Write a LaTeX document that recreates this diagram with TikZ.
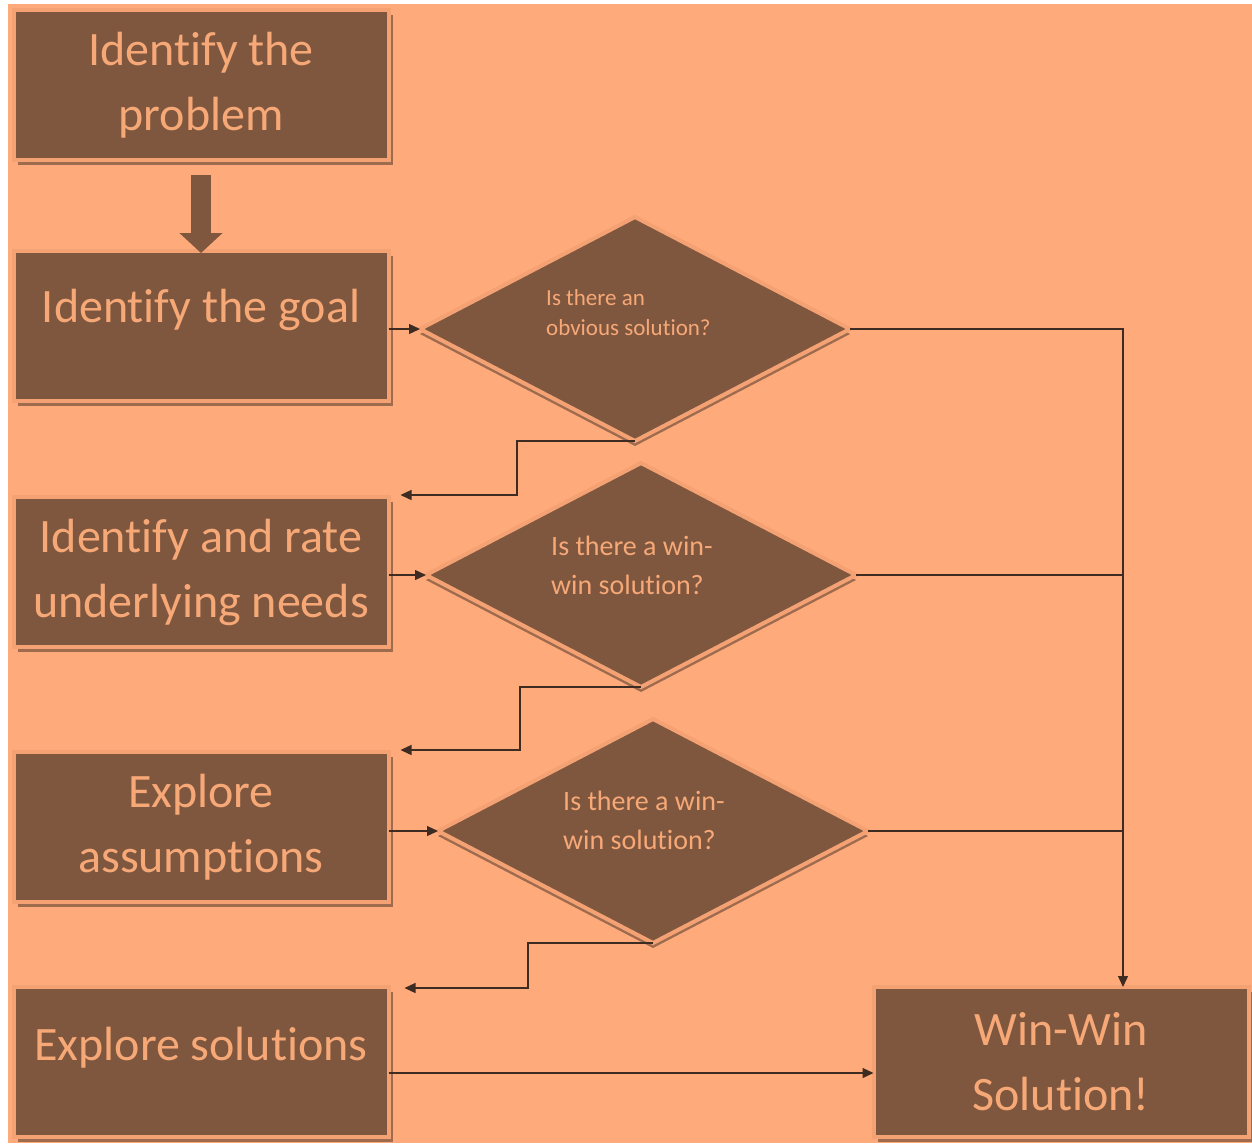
\documentclass[tikz,border=0pt]{standalone}
\usepackage{fontspec}
\setmainfont{Carlito}[Ligatures=NoCommon]
\usetikzlibrary{shapes.geometric,arrows.meta,shadows}
\definecolor{bgc}{HTML}{FFAA7A}
\definecolor{brownc}{HTML}{7F573F}
\definecolor{edgec}{HTML}{F4A274}
\definecolor{shadc}{HTML}{9E6B4F}
\definecolor{txtc}{HTML}{F7A877}
\definecolor{linec}{HTML}{3E2C22}
\begin{document}
\begin{tikzpicture}[x=1pt,y=-1pt,
  stepbox/.style={rectangle, fill=brownc, draw=edgec, line width=4pt,
    minimum width=375pt, minimum height=150pt, inner sep=0pt, outer sep=0pt,
    text=txtc, align=center, font=\fontsize{48}{65}\selectfont,
    drop shadow={shadow xshift=4pt, shadow yshift=-5pt, fill=shadc, opacity=1}},
  decision/.style={diamond, fill=brownc, draw=edgec, line width=4pt,
    minimum width=430pt, minimum height=224pt, inner sep=0pt, outer sep=0pt,
    drop shadow={shadow xshift=0pt, shadow yshift=-5pt, fill=shadc, opacity=1}},
  qsmall/.style={anchor=base west, inner sep=0pt, text=txtc, align=left,
    font=\fontsize{23}{30}\selectfont},
  qtext/.style={anchor=base west, inner sep=0pt, text=txtc, align=left,
    font=\fontsize{28}{39}\selectfont},
  conn/.style={draw=linec, line width=1.3pt},
  arr/.style={conn, -{Triangle[length=11pt,width=10pt]}},
  bigarrow/.style={draw=brownc, line width=20pt, -{Triangle[length=20pt,width=42pt]}}
]
\useasboundingbox (0,0) rectangle (1252,1143);
\fill[white] (0,0) rectangle (1252,1143);
\fill[bgc] (8,4) rectangle (1252,1143);

% boxes
\node[stepbox] (b1) at (201,85) {Identify the\\problem};
\node[stepbox, text depth=40pt] (b2) at (201,326) {Identify the goal};
\node[stepbox] (b3) at (201,572) {Identify and rate\\underlying needs};
\node[stepbox] (b4) at (201,827) {Explore\\assumptions};
\node[stepbox, text depth=36pt] (b5) at (201,1062) {Explore solutions};
\node[stepbox] (win) at (1061,1062) {Win-Win\\Solution!};

% decisions
\node[decision] (d1) at (635,329) {};
\node[decision] (d2) at (641,575) {};
\node[decision] (d3) at (653,831) {};
\node[qsmall] (q1) at (546,335) {Is there an\\obvious solution?};
\node[qtext] (q2) at (551,594) {Is there a win-\\win solution?};
\node[qtext] (q3) at (563,849) {Is there a win-\\win solution?};

% helper coordinates
\coordinate (bus) at (1123,1062);
\coordinate (k1) at (517,0);
\coordinate (k2) at (520,0);
\coordinate (k3) at (528,0);
\coordinate (t3) at ([xshift=12pt,yshift=2pt]b3.north east);
\coordinate (t4) at ([xshift=12pt,yshift=2pt]b4.north east);
\coordinate (t5) at ([xshift=16pt,yshift=-1pt]b5.north east);

% thick arrow
\draw[bigarrow] ([yshift=-15pt]b1.south) -- ([yshift=-2pt]b2.north);

% box to decision
\draw[arr] (d1.west -| b2.east) -- (d1.west);
\draw[arr] (d2.west -| b3.east) -- (d2.west);
\draw[arr] (d3.west -| b4.east) -- (d3.west);

% yes branches to win
\draw[arr] (d1.east) -| (win.north -| bus);
\draw[conn] (d2.east) -- (d2.east -| bus);
\draw[conn] (d3.east) -- (d3.east -| bus);

% no branches
\draw[arr] (d1.south) -| (t3 -| k1) -- (t3);
\draw[arr] (d2.south) -| (t4 -| k2) -- (t4);
\draw[arr] (d3.south) -| (t5 -| k3) -- (t5);

% explore solutions to win
\draw[arr] ([yshift=-11pt]b5.east) -- ([yshift=-11pt]win.west);
\end{tikzpicture}
\end{document}
